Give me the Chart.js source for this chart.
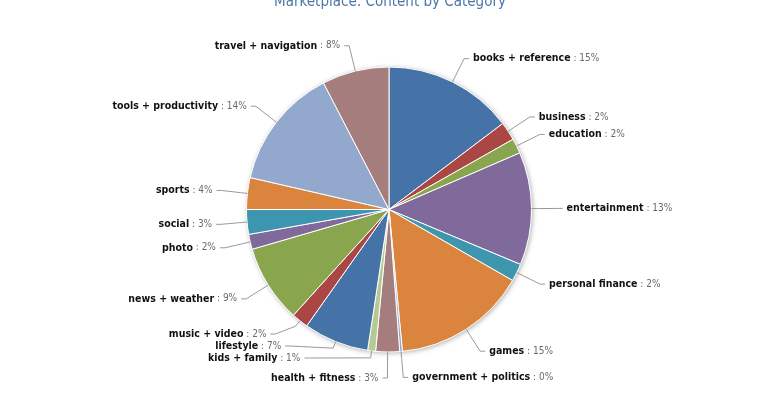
<!DOCTYPE html>
<html>
<head>
<meta charset="utf-8">
<script src="https://cdn.jsdelivr.net/npm/chart.js@4/dist/chart.umd.min.js"></script>
<style>
html,body{margin:0;padding:0;background:#ffffff;}
#wrap{width:780px;height:399px;position:relative;}
</style>
</head>
<body>
<div id="wrap"><canvas id="chart" width="780" height="399"></canvas></div>
<script>
const chartTitle = 'Marketplace: Content by Category';
const categories = [
  'books + reference', 'business', 'education', 'entertainment', 'personal finance',
  'games', 'government + politics', 'health + fitness', 'kids + family', 'lifestyle',
  'music + video', 'news + weather', 'photo', 'social', 'sports',
  'tools + productivity', 'travel + navigation'
];
const shares = [14.7, 2.1, 1.7, 12.8, 2.0, 15.2, 0.3, 2.7, 0.9, 7.4, 1.9, 8.8, 1.7, 2.8, 3.6, 13.8, 7.6];
const palette = ['#4572A7', '#AA4643', '#89A54E', '#80699B', '#3D96AE', '#DB843D', '#92A8CD', '#A47D7C', '#B5CA92'];
const sliceColors = categories.map((_, i) => palette[i % palette.length]);

const pieDecor = {
  id: 'pieDecor',
  beforeDatasetsDraw(chart, args, opts) {
    const arc = chart.getDatasetMeta(0).data[0];
    const ctx = chart.ctx;
    ctx.save();
    ctx.beginPath();
    ctx.arc(arc.x, arc.y, arc.outerRadius, 0, Math.PI * 2);
    ctx.shadowColor = 'rgba(0,0,0,0.35)';
    ctx.shadowBlur = 5;
    ctx.shadowOffsetX = 1;
    ctx.shadowOffsetY = 1;
    ctx.fillStyle = '#ffffff';
    ctx.fill();
    ctx.restore();
  },
  afterDatasetsDraw(chart, args, opts) {
    const ctx = chart.ctx;
    const meta = chart.getDatasetMeta(0);
    const arcs = meta.data;
    const values = chart.data.datasets[0].data;
    const names = chart.data.labels;
    const total = values.reduce((a, b) => a + b, 0);
    const cx = arcs[0].x, cy = arcs[0].y, r = arcs[0].outerRadius;
    const R = r + opts.distance;
    const pts = arcs.map((a, i) => {
      const ang = (a.startAngle + a.endAngle) / 2;
      const c = Math.cos(ang), s = Math.sin(ang);
      return {
        i, left: c < 0,
        natY: cy + R * s,
        ex: cx + r * c, ey: cy + r * s,
        bx: cx + (r + opts.connectorOffset) * c, by: cy + (r + opts.connectorOffset) * s
      };
    });
    const bottom = Math.min(cy + R, opts.labelBottom);
    const top = Math.max(cy - R, 0);
    const h = opts.labelHeight;
    [false, true].forEach(isLeft => {
      const side = isLeft ? -1 : 1;
      const list = pts.filter(p => p.left === isLeft).sort((a, b) => b.natY - a.natY);
      const slots = [];
      for (let p = bottom; p >= top; p -= h) slots.push(p);
      const sl = slots.length, n = list.length;
      const taken = new Array(sl).fill(false);
      list.forEach((p, j) => {
        let k = 0, bd = Infinity;
        for (let q = 0; q < sl; q++) {
          if (taken[q]) continue;
          const d = Math.abs(slots[q] - p.natY);
          if (d < bd) { bd = d; k = q; }
        }
        if (k < j && !taken[j]) k = j;
        else if (sl < n - j + k && !taken[j]) { k = sl - n + j; while (taken[k]) k++; }
        taken[k] = true;
        p.slot = k;
      });
      list.forEach(p => {
        const k = p.slot;
        let y = slots[k];
        if (p.natY > y && (k - 1 < 0 || !taken[k - 1])) y = p.natY;
        else if (p.natY < y && (k + 1 >= sl || !taken[k + 1])) y = p.natY;
        const yx = (k === 0 || k === sl - 1) ? p.natY : y;
        const dy = yx - cy;
        const x = cx + side * Math.sqrt(Math.max(0, R * R - dy * dy));
        ctx.save();
        ctx.strokeStyle = opts.connectorColor;
        ctx.lineWidth = 1;
        ctx.beginPath();
        ctx.moveTo(p.ex, p.ey);
        ctx.lineTo(p.bx, p.by);
        ctx.lineTo(x, y);
        ctx.lineTo(x + side * opts.connectorPadding, y);
        ctx.stroke();
        const name = names[p.i];
        const pct = Math.round(values[p.i] / total * 100);
        const valText = ' : ' + pct + '%';
        ctx.textBaseline = 'middle';
        ctx.font = opts.nameFont;
        const nw = ctx.measureText(name).width;
        ctx.font = opts.valueFont;
        const vw = ctx.measureText(valText).width;
        const tx = x + side * (opts.connectorPadding + opts.textGap);
        const startX = isLeft ? tx - nw - vw : tx;
        ctx.textAlign = 'left';
        ctx.font = opts.nameFont;
        ctx.fillStyle = opts.nameColor;
        ctx.fillText(name, startX, y);
        ctx.font = opts.valueFont;
        ctx.fillStyle = opts.valueColor;
        ctx.fillText(valText, startX + nw, y);
        ctx.restore();
      });
    });
  },
  afterDraw(chart, args, opts) {
    const ctx = chart.ctx;
    ctx.save();
    ctx.font = opts.titleFont;
    ctx.fillStyle = opts.titleColor;
    ctx.textAlign = 'center';
    ctx.textBaseline = 'alphabetic';
    ctx.fillText(chartTitle, chart.width / 2, opts.titleBaseline);
    ctx.restore();
  }
};

new Chart(document.getElementById('chart'), {
  type: 'pie',
  data: {
    labels: categories,
    datasets: [{
      data: shares,
      backgroundColor: sliceColors,
      borderColor: '#ffffff',
      borderWidth: 1
    }]
  },
  options: {
    responsive: false,
    animation: false,
    devicePixelRatio: 1,
    events: [],
    layout: { padding: { left: 246, right: 248, top: 66.5, bottom: 46.5 } },
    plugins: {
      legend: { display: false },
      title: { display: false },
      tooltip: { enabled: false },
      pieDecor: {
        distance: 26,
        connectorOffset: 7,
        connectorPadding: 5,
        textGap: 4,
        labelHeight: 12,
        labelBottom: 370,
        connectorColor: '#999999',
        nameFont: 'bold 10.5px "DejaVu Sans Condensed", "DejaVu Sans", sans-serif',
        valueFont: '10px "DejaVu Sans Condensed", "DejaVu Sans", sans-serif',
        nameColor: '#111111',
        valueColor: '#6a6a6a',
        titleFont: '15px "DejaVu Sans Condensed", "DejaVu Sans", sans-serif',
        titleColor: '#4a78a8',
        titleBaseline: 5.5
      }
    }
  },
  plugins: [pieDecor]
});
</script>
</body>
</html>
